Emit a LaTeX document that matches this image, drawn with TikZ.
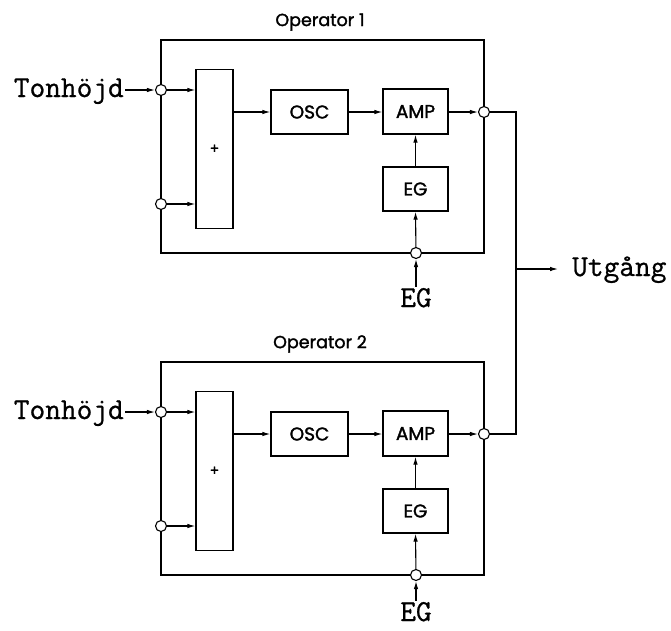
\documentclass[tikz,border=0pt]{standalone}
\usepackage{fontspec}
\newfontfamily\boxfont{Poppins}[FakeBold=1.6]
\newfontfamily\monof{Latin Modern Mono}[FakeBold=0.8]
\usetikzlibrary{arrows.meta}
\begin{document}
\begin{tikzpicture}[x=1pt,y=-1pt,
  outerbox/.style={draw,line width=1.8pt,minimum width=323pt,minimum height=213pt,inner sep=0pt},
  boxn/.style={draw,line width=1.3pt,inner sep=0pt,font=\boxfont\fontsize{18.5}{18.5}\selectfont},
  titlef/.style={font=\boxfont\fontsize{17.5}{17.5}\selectfont,inner sep=0pt},
  port/.style={circle,draw,fill=white,line width=1.1pt,minimum size=11pt,inner sep=0pt},
  mono/.style={font=\monof\fontsize{30.5}{30.5}\selectfont,inner xsep=1pt,inner ysep=1pt},
  arr/.style={line width=1.1pt,-{Latex[length=8pt,width=4.5pt]}},
  wire/.style={line width=1.4pt}]
\useasboundingbox (0,0) rectangle (671,630);
\foreach \i/\dy/\eb in {1/0/307,2/322/299}{
\begin{scope}[shift={(0,\dy)}]
  \node[outerbox] (op\i) at (322.5,146.5) {};
  \node[titlef] (t\i) at (320,22) {Operator \i};
  \node[boxn,minimum width=37pt,minimum height=159pt,font=\boxfont\fontsize{14}{14}\selectfont] (plus\i) at (214.5,149) {+};
  \node[boxn,minimum width=77pt,minimum height=44pt] (osc\i) at (309.5,112) {OSC};
  \node[boxn,minimum width=65pt,minimum height=45pt] (amp\i) at (415.5,111.5) {AMP};
  \node[boxn,minimum width=65pt,minimum height=44pt] (eg\i) at (415.5,189) {EG};
  \node[port] (ia\i) at (161,90) {};
  \node[port] (ib\i) at (161,204) {};
  \node[port] (out\i) at (484,112) {};
  \node[port] (bot\i) at (416,253) {};
  \node[mono,anchor=base east] (ton\i) at (125,97) {Tonhöjd};
  \node[mono,anchor=base] (egl\i) at (416,\eb) {EG};
  \draw[arr] (ton\i.east |- ia\i) -- (ia\i);
  \draw[arr] (ia\i) -- (ia\i -| plus\i.west);
  \draw[arr] (ib\i) -- (ib\i -| plus\i.west);
  \draw[arr] (plus\i.east |- osc\i.west) -- (osc\i.west);
  \draw[arr] (osc\i.east) -- (osc\i.east -| amp\i.west);
  \draw[arr] (amp\i.east |- out\i) -- (out\i);
  \draw[arr] (eg\i.north) -- (amp\i.south);
  \draw[arr] (bot\i) -- (eg\i.south);
  \draw[arr] (egl\i.north) -- (bot\i);
\end{scope}
}
\coordinate (j) at (516,269);
\coordinate (ue) at (558,269);
\draw[wire] (out1) -| (j);
\draw[wire] (out2) -| (j);
\draw[arr] (j) -- (ue);
\node[mono,anchor=base west] (utg) at (571,276) {Utgång};
\end{tikzpicture}
\end{document}
